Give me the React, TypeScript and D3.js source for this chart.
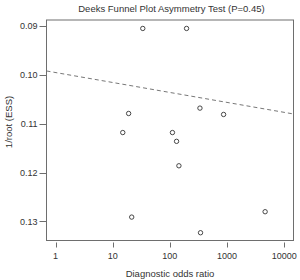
import React from "react";
import * as d3 from "d3";

const studyDOR = [33.6, 196, 336, 871, 19, 15, 111, 131, 144, 21.5, 4640, 344];
const studyInvRootESS = [0.0905, 0.0905, 0.1068, 0.1081, 0.1079, 0.1118, 0.1118, 0.1136, 0.1186, 0.1291, 0.128, 0.1323];
const xTicks = [1, 10, 100, 1000, 10000];
const yTicks = [0.09, 0.1, 0.11, 0.12, 0.13];
const regIntercept = 0.09952;
const regSlope = 0.002037;
const titleText = "Deeks Funnel Plot Asymmetry Test (P=0.45)";
const xTitle = "Diagnostic odds ratio";
const yTitle = "1/root (ESS)";

export default function App() {
  const W = 300, H = 280;
  const L = 46.5, R = 293.5, T = 20, B = 240.5;
  const x = d3.scaleLog().domain([0.695, 14555]).range([L, R]);
  const y = d3.scaleLinear().domain([0.08877, 0.13389]).range([T, B]);
  const font = "Liberation Sans, Arial, Helvetica, sans-serif";
  const axisCol = "#6e6e6e";
  const textCol = "#333";
  const lineData = x.domain();
  const line = d3.line<number>().x(d => x(d)).y(d => y(regIntercept + regSlope * Math.log10(d)));
  return (
    <svg width={W} height={H} style={{ position: "absolute", left: 0, top: 0 }} fontFamily={font}>
      <rect x={0} y={0} width={W} height={H} fill="#fff" />
      <text x={171.5} y={11.5} textAnchor="middle" fontSize={9.5} fill={textCol}>{titleText}</text>
      <rect x={L} y={T} width={R - L} height={B - T} fill="none" stroke={axisCol} strokeWidth={1} />
      <path d={line(lineData) || ""} fill="none" stroke="#777" strokeWidth={1} strokeDasharray="4,3" />
      {yTicks.map(t => (
        <g key={t}>
          <line x1={L - 7} x2={L} y1={Math.round(y(t)) + 0.5} y2={Math.round(y(t)) + 0.5} stroke={axisCol} />
          <text x={L - 9} y={y(t) + 3.2} textAnchor="end" fontSize={9} fill={textCol}>{t.toFixed(2)}</text>
        </g>
      ))}
      {xTicks.map(t => (
        <g key={t}>
          <line x1={Math.round(x(t)) + 0.5} x2={Math.round(x(t)) + 0.5} y1={B + 2} y2={B + 7} stroke={axisCol} />
          <text x={x(t)} y={259} textAnchor="middle" fontSize={9} fill={textCol}>{String(t)}</text>
        </g>
      ))}
      <text x={170} y={277} textAnchor="middle" fontSize={9.5} fill={textCol}>{xTitle}</text>
      <text transform={`translate(12,122) rotate(-90)`} textAnchor="middle" fontSize={9.5} fill={textCol}>{yTitle}</text>
      {studyDOR.map((d, i) => (
        <circle key={i} cx={x(d)} cy={y(studyInvRootESS[i])} r={2.2} fill="none" stroke="#333" strokeWidth={0.9} />
      ))}
    </svg>
  );
}
